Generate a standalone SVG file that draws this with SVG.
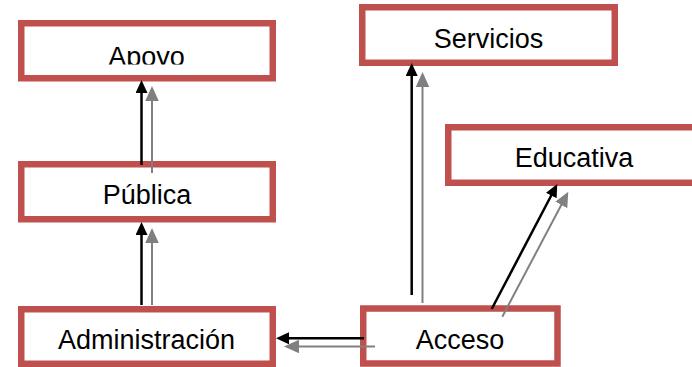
<svg xmlns="http://www.w3.org/2000/svg" width="692" height="367" viewBox="0 0 692 367">
  <style>
    .box { fill: #ffffff; stroke: #C0504D; stroke-width: 6.5; }
    .lbl { font-family: "Liberation Sans", Arial, sans-serif; font-size: 27px; fill: #000000; text-anchor: middle; }
    .blk { stroke: #000000; stroke-width: 2.5; fill: none; marker-end: url(#hb); }
    .gry { stroke: #808080; stroke-width: 2; fill: none; marker-end: url(#hg); }
  </style>
  <defs>
    <marker id="hb" markerUnits="userSpaceOnUse" markerWidth="14" markerHeight="13" refX="9" refY="6" orient="auto">
      <path d="M0,0 L13,6 L0,12 z" fill="#000000"/>
    </marker>
    <marker id="hg" markerUnits="userSpaceOnUse" markerWidth="16" markerHeight="14" refX="11" refY="6.75" orient="auto">
      <path d="M0,0 L15,6.75 L0,13.5 z" fill="#808080"/>
    </marker>
    <clipPath id="clipApoyo">
      <rect x="24" y="26" width="246" height="38.5"/>
    </clipPath>
  </defs>
  <rect width="692" height="367" fill="#ffffff"/>

  <g id="node-apoyo">
    <rect class="box" x="21.25" y="23.25" width="251.5" height="55"/>
    <text class="lbl" x="146.5" y="66" clip-path="url(#clipApoyo)">Apoyo</text>
  </g>
  <g id="node-publica">
    <rect class="box" x="21.25" y="164.25" width="251.5" height="55"/>
    <text class="lbl" x="147" y="204">Pública</text>
  </g>
  <g id="node-administracion">
    <rect class="box" x="21.25" y="309.25" width="251.5" height="54.5"/>
    <text class="lbl" x="146.5" y="349">Administración</text>
  </g>
  <g id="node-servicios">
    <rect class="box" x="362.25" y="7.25" width="252.5" height="55.5"/>
    <text class="lbl" x="488.5" y="48">Servicios</text>
  </g>
  <g id="node-educativa">
    <rect class="box" x="448.25" y="127.25" width="252" height="55.5"/>
    <text class="lbl" x="574" y="167">Educativa</text>
  </g>
  <g id="node-acceso">
    <rect class="box" x="363.25" y="308.5" width="194.25" height="55"/>
    <text class="lbl" x="460" y="349">Acceso</text>
  </g>

  <g id="connectors">
    <!-- Publica -> Apoyo -->
    <path class="blk" d="M141.5,165 L141.5,84"/>
    <path class="gry" d="M152,173 L152,90"/>
    <!-- Administracion -> Publica -->
    <path class="blk" d="M141.5,305 L141.5,226"/>
    <path class="gry" d="M152,305 L152,232"/>
    <!-- Acceso -> Servicios -->
    <path class="blk" d="M411.7,295 L411.7,67"/>
    <path class="gry" d="M422.5,303 L422.5,76"/>
    <!-- Acceso -> Educativa -->
    <path class="blk" d="M491.7,309 L555.44,187.54"/>
    <path class="gry" d="M502.3,316.7 L566.43,195.24"/>
    <!-- Acceso -> Administracion -->
    <path class="blk" d="M364,338.3 L280,338.3"/>
    <path class="gry" d="M375,346.5 L288,346.5"/>
  </g>
</svg>
